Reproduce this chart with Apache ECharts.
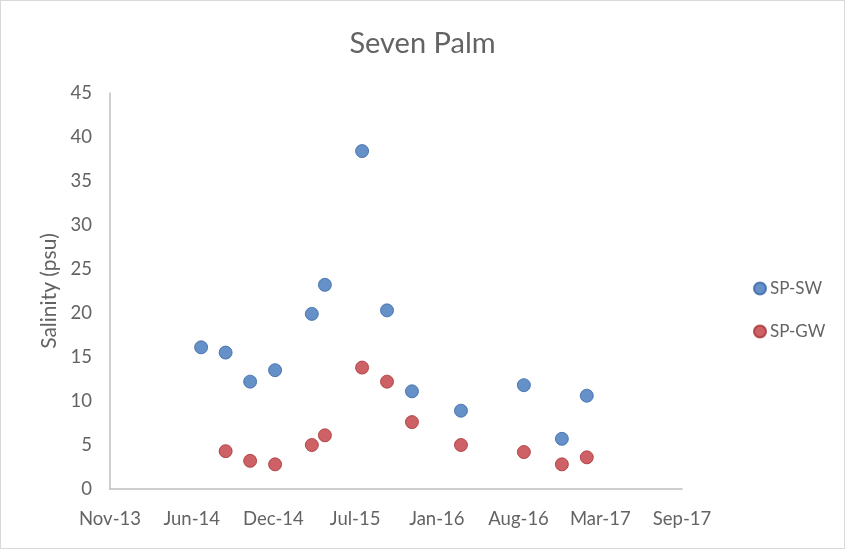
<!DOCTYPE html>
<html>
<head>
<meta charset="utf-8">
<script src="https://cdn.jsdelivr.net/npm/echarts@6/dist/echarts.min.js"></script>
<style>
  html, body { margin: 0; padding: 0; background: #fff; }
  #frame { position: absolute; left: 0; top: 0; width: 843px; height: 547px; border: 1px solid #d9d9d9; }
  #chart { width: 845px; height: 549px; }
</style>
</head>
<body>
<div id="chart"></div>
<div id="frame"></div>
<script>
// Sampling dates and salinity readings (psu)
const swDates = ['2014-07-03', '2014-09-01', '2014-10-31', '2014-12-31', '2015-03-31', '2015-05-02', '2015-08-01', '2015-10-01', '2015-12-01', '2016-03-30', '2016-08-31', '2016-12-02', '2017-02-01'];
const swValues = [16.1, 15.5, 12.2, 13.5, 19.9, 23.2, 38.4, 20.3, 11.1, 8.9, 11.8, 5.7, 10.6];

const gwDates = ['2014-09-01', '2014-10-31', '2014-12-31', '2015-03-31', '2015-05-02', '2015-08-01', '2015-10-01', '2015-12-01', '2016-03-30', '2016-08-31', '2016-12-02', '2017-02-01'];
const gwValues = [4.3, 3.2, 2.8, 5.0, 6.1, 13.8, 12.2, 7.6, 5.0, 4.2, 2.8, 3.6];

const seriesNames = ['SP-SW', 'SP-GW'];
const yTicks = { min: 0, max: 45, step: 5 };
// Date axis in spreadsheet day serials: Nov-13 .. Sep-17, every 200 days
const xTicks = { min: 41600, max: 43000, step: 200 };

const MONTHS = ['Jan','Feb','Mar','Apr','May','Jun','Jul','Aug','Sep','Oct','Nov','Dec'];
const EPOCH = Date.UTC(1899, 11, 30);
function toSerial(s) {
  const p = s.split('-').map(Number);
  return Math.round((Date.UTC(p[0], p[1] - 1, p[2]) - EPOCH) / 86400000);
}
function serialLabel(v) {
  const d = new Date(EPOCH + v * 86400000);
  return MONTHS[d.getUTCMonth()] + '-' + String(d.getUTCFullYear() % 100).padStart(2, '0');
}
const pairs = (dates, vals) => dates.map((d, i) => [toSerial(d), vals[i]]);

const FONT = 'Lato, "Open Sans", sans-serif';
const TXT = '#636363';

const chart = echarts.init(document.getElementById('chart'), null, { renderer: 'canvas' });
chart.setOption({
  animation: false,
  backgroundColor: '#fff',
  title: {
    text: 'Seven Palm',
    left: 'center',
    top: 24,
    textStyle: { fontFamily: FONT, fontSize: 29, fontWeight: 'normal', color: TXT }
  },
  legend: {
    orient: 'vertical',
    left: 748,
    top: 275,
    itemGap: 26,
    itemWidth: 12,
    itemHeight: 12,
    icon: 'circle',
    textStyle: { fontFamily: FONT, fontSize: 17, color: TXT, padding: [0, 0, 0, -1] },
    data: seriesNames
  },
  grid: { left: 110, right: 163, top: 93, bottom: 60, containLabel: false },
  xAxis: {
    type: 'value',
    min: xTicks.min,
    max: xTicks.max,
    interval: xTicks.step,
    splitLine: { show: false },
    axisTick: { show: false },
    axisLine: { lineStyle: { color: '#bfbfbf', width: 1.5 } },
    axisLabel: { formatter: serialLabel, fontFamily: FONT, fontSize: 18.5, color: TXT, margin: 21 }
  },
  yAxis: {
    type: 'value',
    name: 'Salinity (psu)',
    nameLocation: 'middle',
    nameGap: 49,
    nameTextStyle: { fontFamily: FONT, fontSize: 21, color: TXT },
    min: yTicks.min,
    max: yTicks.max,
    interval: yTicks.step,
    splitLine: { show: false },
    axisTick: { show: false },
    axisLine: { show: true, lineStyle: { color: '#bfbfbf', width: 1.5 } },
    axisLabel: { fontFamily: FONT, fontSize: 18.5, color: TXT, margin: 18 }
  },
  series: [
    {
      name: seriesNames[0],
      type: 'scatter',
      symbolSize: 13,
      itemStyle: { color: '#3F74BA', borderColor: '#3867A8', borderWidth: 1 },
      data: pairs(swDates, swValues)
    },
    {
      name: seriesNames[1],
      type: 'scatter',
      symbolSize: 13,
      itemStyle: { color: '#C03A3E', borderColor: '#A83236', borderWidth: 1 },
      data: pairs(gwDates, gwValues)
    }
  ]
});
</script>
</body>
</html>
